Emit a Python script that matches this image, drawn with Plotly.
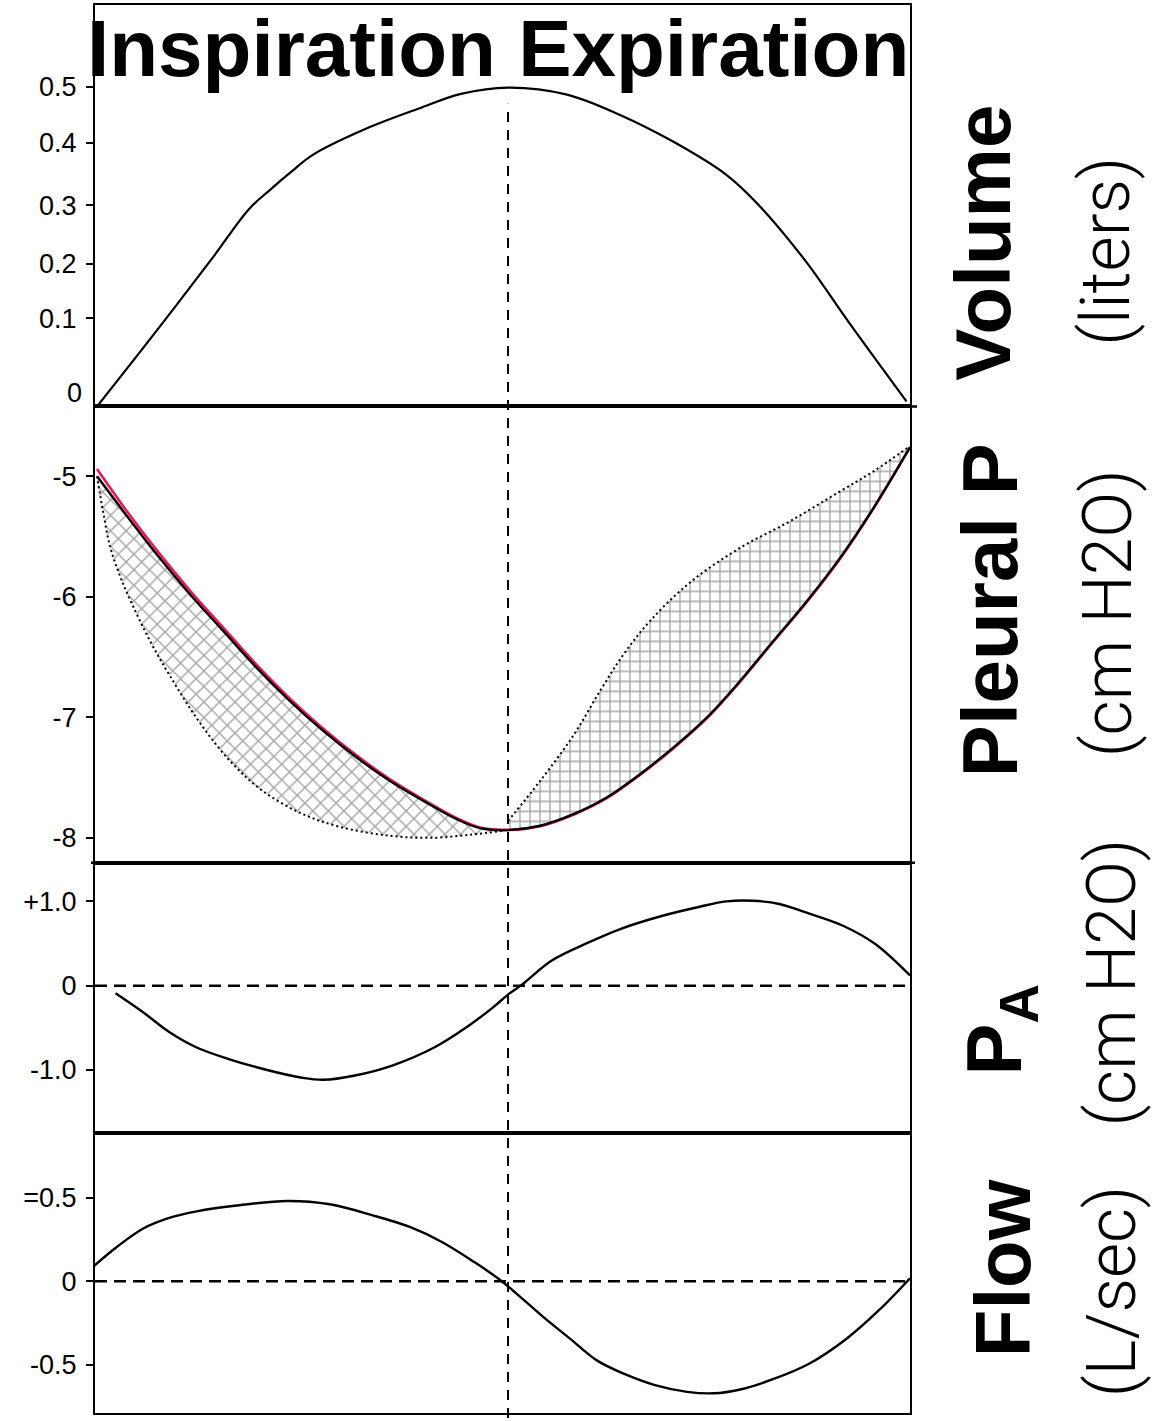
import plotly.graph_objects as go
from plotly.subplots import make_subplots

# ---------------- data (time in s, shared by all panels) ----------------
VOL_T = [0.0, 0.275, 0.560, 0.740, 0.842, 0.940, 1.050, 1.308, 1.566, 1.771, 2.0,
         2.287, 2.545, 2.803, 3.061, 3.217, 3.450, 3.655, 3.939]
VOL = [0.0, 0.113, 0.233, 0.311, 0.341, 0.368, 0.396, 0.437, 0.469, 0.492, 0.502,
       0.491, 0.459, 0.417, 0.365, 0.318, 0.228, 0.134, 0.008]
VOL_TICK_LABELS = ["0.1", "0.2", "0.3", "0.4", "0.5"]
VOL_TICK_POS = [0.139, 0.225, 0.317, 0.415, 0.503]   # where the (uneven) ticks sit

PL_T = [0.0, 0.128, 0.291, 0.453, 0.615, 0.777, 0.939, 1.101, 1.264, 1.426, 1.588,
        1.750, 1.864, 1.994, 2.156, 2.318, 2.480, 2.642, 2.804, 2.967, 3.129, 3.291,
        3.454, 3.616, 3.778, 3.956]
PL_BLACK = [-5.0, -5.290, -5.649, -5.980, -6.285, -6.589, -6.865, -7.113, -7.334,
            -7.528, -7.693, -7.845, -7.920, -7.936, -7.900, -7.804, -7.666, -7.472,
            -7.252, -7.003, -6.699, -6.367, -6.036, -5.677, -5.263, -4.760]
PL_RED = [-4.94, -5.25, -5.615, -5.95, -6.258, -6.565, -6.845, -7.095, -7.318,
          -7.514, -7.682, -7.836, -7.914, -7.934, -7.903, -7.808, -7.671, -7.478,
          -7.258, -7.009, -6.705, -6.373, -6.042, -5.683, -5.268, -4.755]
PL_SPLIT = 13  # index of the end-inspiration point

DOT_IN_T = [0.0, 0.029, 0.063, 0.112, 0.175, 0.258, 0.355, 0.501, 0.647, 0.793,
            0.988, 1.182, 1.426, 1.620, 1.815, 2.0]
DOT_IN = [-5.0, -5.290, -5.580, -5.829, -6.077, -6.367, -6.657, -7.047, -7.362,
          -7.594, -7.793, -7.909, -7.983, -8.000, -7.975, -7.934]
DOT_EX_T = [2.0, 2.156, 2.318, 2.448, 2.561, 2.691, 2.886, 3.129, 3.372, 3.616,
            3.778, 3.946]
DOT_EX = [-7.86, -7.528, -7.150, -6.780, -6.480, -6.200, -5.880, -5.594, -5.373,
          -5.124, -4.959, -4.760]
PL_TICKS = [-5, -6, -7, -8]

PA_T = [0.090, 0.224, 0.353, 0.482, 0.637, 0.818, 0.998, 1.101, 1.255, 1.436, 1.643,
        1.798, 1.927, 2.004, 2.068, 2.211, 2.392, 2.546, 2.752, 2.933, 3.062, 3.191,
        3.320, 3.449, 3.630, 3.787, 3.956]
PA = [-0.091, -0.316, -0.553, -0.730, -0.867, -0.994, -1.092, -1.116, -1.065, -0.947,
      -0.730, -0.493, -0.257, -0.098, 0.012, 0.296, 0.512, 0.671, 0.828, 0.935, 0.998,
      1.006, 0.967, 0.867, 0.710, 0.493, 0.12]
PA_TICKS = [1.0, 0.0, -1.0]
PA_TICK_LABELS = ["+1.0", "0", "-1.0"]

FL_T = [-0.02, 0.096, 0.225, 0.355, 0.485, 0.692, 0.926, 1.133, 1.341, 1.522, 1.678,
        1.834, 1.963, 2.041, 2.171, 2.300, 2.430, 2.560, 2.715, 2.871, 3.001, 3.130,
        3.286, 3.467, 3.649, 3.805, 3.956]
FL = [0.086, 0.205, 0.316, 0.381, 0.419, 0.455, 0.481, 0.461, 0.395, 0.325, 0.235,
      0.116, 0.006, -0.074, -0.214, -0.343, -0.473, -0.553, -0.623, -0.663, -0.672,
      -0.649, -0.589, -0.493, -0.343, -0.174, 0.018]
FL_TICKS = [0.5, 0.0, -0.5]
FL_TICK_LABELS = ["=0.5", "0", "-0.5"]

END_INSP = 2.0

# ---------------- figure ----------------
W, H = 1167, 1421
ML, MR, MT, MB = 95, 257, 3, 8
PW, PH = W - ML - MR, H - MT - MB

fig = make_subplots(rows=4, cols=1, shared_xaxes=True, vertical_spacing=0,
                    row_heights=[402, 457, 271, 280])

BLACK = "black"
RED = "#f2135a"
HATCH = "#4a4a4a"

# Volume
fig.add_trace(go.Scatter(x=VOL_T, y=VOL, mode="lines", line=dict(color=BLACK, width=2.2, shape="spline"),
                         showlegend=False, hoverinfo="skip"), row=1, col=1)

# Pleural hatched areas
lx = DOT_IN_T + PL_T[:PL_SPLIT + 1][::-1]
ly = DOT_IN + PL_BLACK[:PL_SPLIT + 1][::-1]
fig.add_trace(go.Scatter(x=lx, y=ly, mode="lines", fill="toself", line=dict(width=0, shape="spline"),
                         fillcolor="rgba(255,255,255,0)",
                         fillpattern=dict(shape="x", fgcolor=HATCH, bgcolor="rgba(255,255,255,0)",
                                          size=11, solidity=0.24),
                         showlegend=False, hoverinfo="skip"), row=2, col=1)
rx = DOT_EX_T + PL_T[PL_SPLIT:][::-1]
ry = DOT_EX + PL_BLACK[PL_SPLIT:][::-1]
fig.add_trace(go.Scatter(x=rx, y=ry, mode="lines", fill="toself", line=dict(width=0, shape="spline"),
                         fillcolor="rgba(255,255,255,0)",
                         fillpattern=dict(shape="+", fgcolor=HATCH, bgcolor="rgba(255,255,255,0)",
                                          size=10, solidity=0.24),
                         showlegend=False, hoverinfo="skip"), row=2, col=1)
# dotted boundaries
for tx, ty in ((DOT_IN_T, DOT_IN), (DOT_EX_T, DOT_EX)):
    fig.add_trace(go.Scatter(x=tx, y=ty, mode="lines",
                             line=dict(color=BLACK, width=2, dash="2px,3px", shape="spline"),
                             showlegend=False, hoverinfo="skip"), row=2, col=1)
# red and black pleural curves
fig.add_trace(go.Scatter(x=PL_T, y=PL_RED, mode="lines", line=dict(color=RED, width=2.6, shape="spline"),
                         showlegend=False, hoverinfo="skip"), row=2, col=1)
fig.add_trace(go.Scatter(x=PL_T, y=PL_BLACK, mode="lines", line=dict(color=BLACK, width=2.4, shape="spline"),
                         showlegend=False, hoverinfo="skip"), row=2, col=1)

# Alveolar pressure
fig.add_trace(go.Scatter(x=PA_T, y=PA, mode="lines", line=dict(color=BLACK, width=2.4, shape="spline"),
                         showlegend=False, hoverinfo="skip"), row=3, col=1)
# Flow
fig.add_trace(go.Scatter(x=FL_T, y=FL, mode="lines", line=dict(color=BLACK, width=2.4, shape="spline"),
                         showlegend=False, hoverinfo="skip"), row=4, col=1)

# ---------------- axes ----------------
XR = [-0.01, 3.956]
fig.update_xaxes(range=XR, showline=True, mirror=True, linecolor=BLACK, linewidth=2.2,
                 ticks="", showticklabels=False, showgrid=False, zeroline=False)
TICKFONT = dict(family="Liberation Sans, Arial, sans-serif", size=27, color=BLACK)
common_y = dict(showline=True, mirror=True, linecolor=BLACK, linewidth=2.2, ticks="outside",
                ticklen=7, tickwidth=2, tickcolor=BLACK, showgrid=False, zeroline=False,
                tickfont=TICKFONT, ticklabelstandoff=4)
fig.update_yaxes(range=[0, 0.632], tickvals=VOL_TICK_POS, ticktext=VOL_TICK_LABELS,
                 row=1, col=1, **common_y)
fig.update_yaxes(range=[-8.207, -4.420], tickvals=PL_TICKS, ticktext=[str(v) for v in PL_TICKS],
                 row=2, col=1, **common_y)
fig.update_yaxes(range=[-1.751, 1.456], tickvals=PA_TICKS, ticktext=PA_TICK_LABELS,
                 row=3, col=1, **common_y)
fig.update_yaxes(range=[-0.790, 0.886], tickvals=FL_TICKS, ticktext=FL_TICK_LABELS,
                 row=4, col=1, **common_y)

# ---------------- reference lines ----------------
def py2paper(py):
    return (H - MB - py) / PH

def px2paper(px):
    return (px - ML) / PW

fig.add_shape(type="line", xref="x", yref="paper", x0=END_INSP, x1=END_INSP,
              y0=py2paper(1418), y1=py2paper(102),
              line=dict(color=BLACK, width=2, dash="10px,8px"))
fig.add_shape(type="line", xref="x3", yref="y3", x0=XR[0], x1=XR[1], y0=0, y1=0,
              line=dict(color=BLACK, width=2.5, dash="12px,7px"))
fig.add_shape(type="line", xref="x4", yref="y4", x0=XR[0], x1=XR[1], y0=0, y1=0,
              line=dict(color=BLACK, width=2.5, dash="12px,7px"))
# panel dividers poke slightly past the frame, as in the drawing
for y_px, x0_px, x1_px in ((405, 95, 917), (862, 91, 915), (1133, 95, 912)):
    fig.add_shape(type="line", xref="paper", yref="paper",
                  x0=px2paper(x0_px), x1=px2paper(x1_px), y0=py2paper(y_px), y1=py2paper(y_px),
                  line=dict(color=BLACK, width=2.4))

# ---------------- text ----------------
BOLD = "Liberation Sans, Arial, sans-serif"
LIGHT = "Roboto, Liberation Sans, sans-serif"
ann = []
ann.append(dict(text="Inspiration Expiration", xref="paper", yref="paper",
                x=px2paper(498), y=py2paper(47), xanchor="center", yanchor="middle",
                showarrow=False, font=dict(family=BOLD, size=80, color=BLACK, weight="bold")))
ann.append(dict(text="0", xref="paper", yref="paper", x=px2paper(84), y=py2paper(392),
                xanchor="right", yanchor="middle", showarrow=False, font=TICKFONT))

bold_labels = [("Volume", 983, 241), ("Pleural P", 990, 609),
               ("P<sub>A</sub>", 1000, 1030), ("Flow", 1003, 1268)]
for txt, cx, cy in bold_labels:
    ann.append(dict(text=txt, xref="paper", yref="paper", x=px2paper(cx), y=py2paper(cy),
                    xanchor="center", yanchor="middle", textangle=-90, showarrow=False,
                    font=dict(family=BOLD, size=78, color=BLACK, weight="bold")))
light_labels = [("(liters)", 1106, 250), ("(cm H2O)", 1108, 612),
                ("(cm H2O)", 1112, 982), ("(L/sec)", 1112, 1292)]
for txt, cx, cy in light_labels:
    ann.append(dict(text=txt, xref="paper", yref="paper", x=px2paper(cx), y=py2paper(cy),
                    xanchor="center", yanchor="middle", textangle=-90, showarrow=False,
                    font=dict(family=LIGHT, size=68, color=BLACK, weight=300)))

fig.update_layout(width=W, height=H, margin=dict(l=ML, r=MR, t=MT, b=MB),
                  paper_bgcolor="white", plot_bgcolor="white", showlegend=False,
                  annotations=ann)

fig.write_html("out.html", config={"displayModeBar": False},
               post_script="document.body.style.margin='0px';document.body.style.padding='0px';")
